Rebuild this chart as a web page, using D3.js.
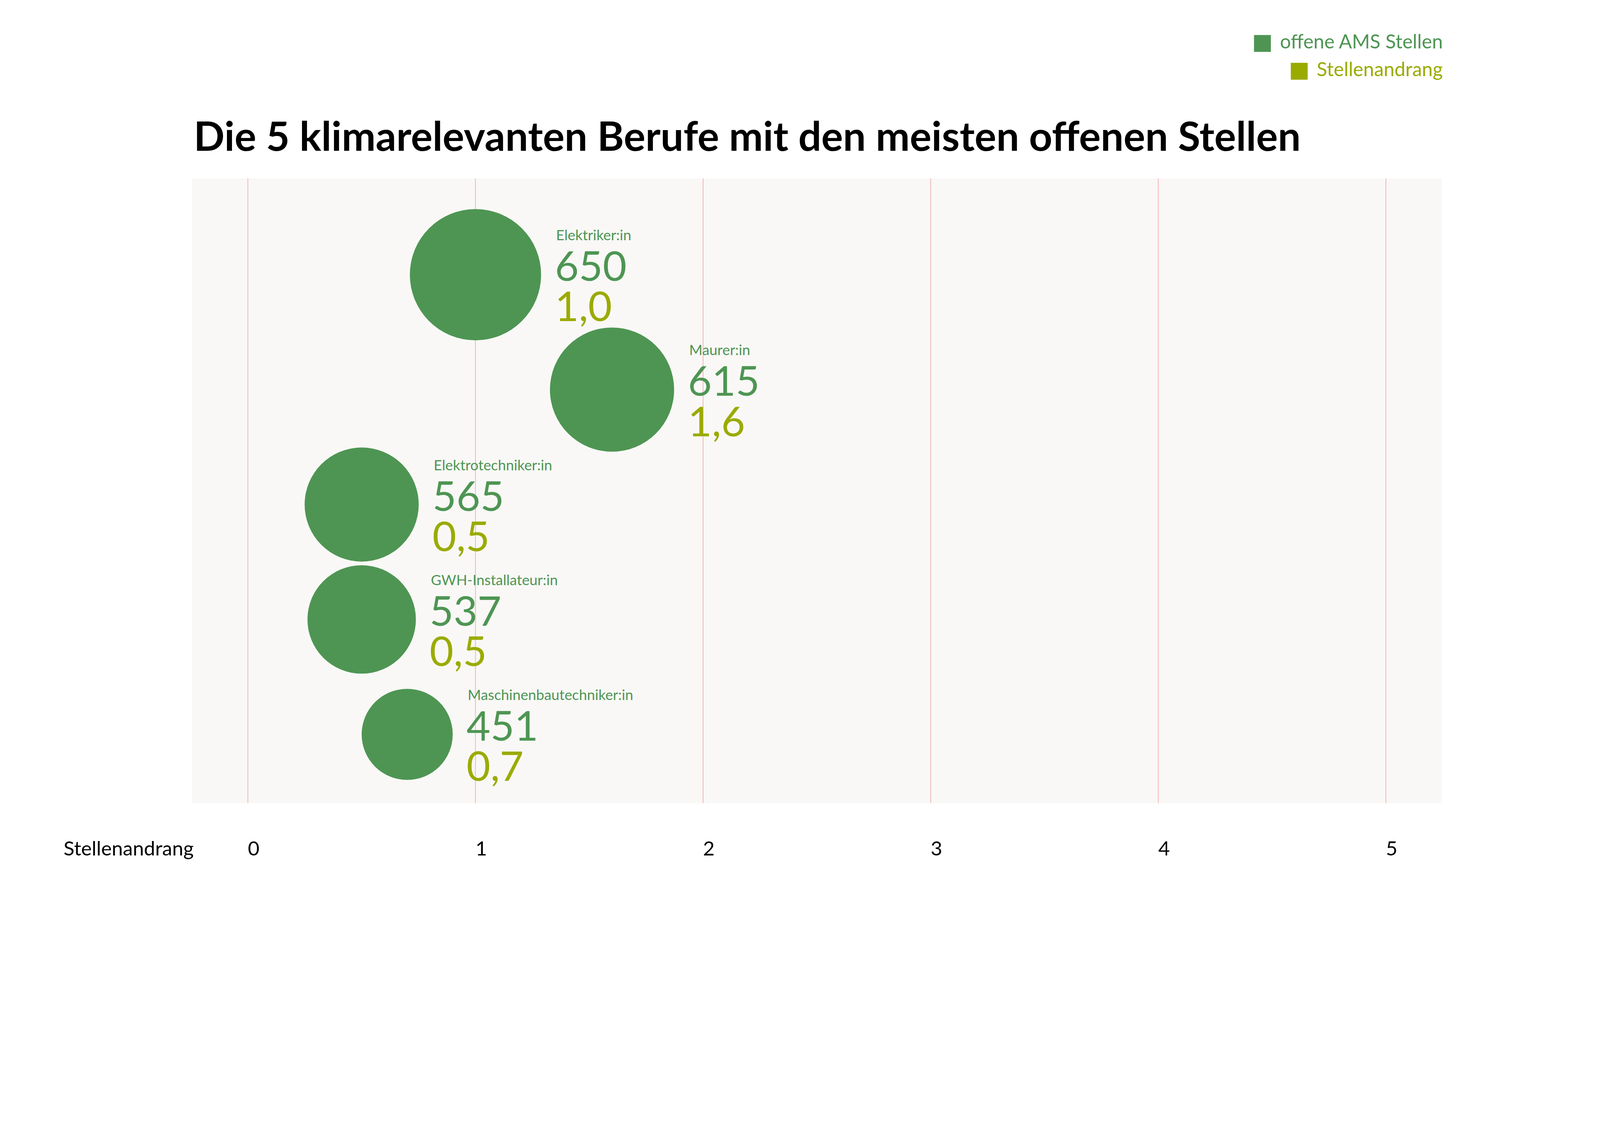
<!DOCTYPE html>
<html>
<head>
<meta charset="utf-8">
<script src="https://cdn.jsdelivr.net/npm/d3@7"></script>
<style>
  html, body { margin: 0; padding: 0; background: #fff; overflow: hidden; }
  svg { display: block; width: 100vw; height: auto; }
  text { font-family: Lato, "Noto Sans", sans-serif; }
</style>
</head>
<body>
<div id="chart"></div>
<script>
// data
var berufe = ["Elektriker:in", "Maurer:in", "Elektrotechniker:in", "GWH-Installateur:in", "Maschinenbautechniker:in"]
var offeneStellen = [650, 615, 565, 537, 451]
var stellenandrang = [1.0, 1.6, 0.5, 0.5, 0.7]
var xTicks = [0, 1, 2, 3, 4, 5]
var legendLabels = ["offene AMS Stellen", "Stellenandrang"]

var width = 5120, height = 2880
var green = "#4e9553", olive = "#9aab00"

var data = berufe.map(function(b, i) {
  return { name: b, stellen: offeneStellen[i], andrang: stellenandrang[i] }
})

var svg = d3.select("#chart").append("svg")
  .attr("viewBox", "0 0 " + width + " " + height)
  .attr("preserveAspectRatio", "xMinYMin meet")

var plot = { left: 614, right: 4614, top: 571, bottom: 2570 }

var x = d3.scaleLinear().domain([-0.246, 5.246]).range([plot.left, plot.right])
var y = d3.scalePoint().domain(berufe).range([879, 2350])
var r = d3.scaleLinear().domain([0, 650]).range([0, 210])

// plot background
svg.append("rect")
  .attr("x", plot.left).attr("y", plot.top)
  .attr("width", plot.right - plot.left)
  .attr("height", plot.bottom - plot.top)
  .attr("fill", "#f9f8f6")

// grid lines
svg.append("g").selectAll("line")
  .data(xTicks)
  .enter().append("line")
  .attr("x1", d => x(d)).attr("x2", d => x(d))
  .attr("y1", plot.top).attr("y2", plot.bottom)
  .attr("stroke", "#f2b6ba")
  .attr("stroke-width", 2.5)

// tick labels
svg.append("g").selectAll("text")
  .data(xTicks)
  .enter().append("text")
  .attr("x", d => x(d))
  .attr("y", 2738)
  .attr("font-size", 64)
  .attr("fill", "#000")
  .text(d => d)

svg.append("text")
  .attr("x", 620).attr("y", 2738)
  .attr("text-anchor", "end")
  .attr("font-size", 64)
  .attr("fill", "#000")
  .text("Stellenandrang")

// title
var title = svg.append("text")
  .attr("x", 620).attr("y", 483)
  .attr("font-size", 130)
  .attr("font-weight", "bold")
  .attr("fill", "#000")
  .text("Die 5 klimarelevanten Berufe mit den meisten offenen Stellen")
var tw = title.node().getComputedTextLength()
title.attr("font-size", 130 * 3543 / tw)

// bubbles
var bubble = svg.append("g").selectAll("g")
  .data(data)
  .enter().append("g")

bubble.append("circle")
  .attr("cx", d => x(d.andrang))
  .attr("cy", d => y(d.name))
  .attr("r", d => r(d.stellen))
  .attr("fill", green)

bubble.append("text")
  .attr("x", d => x(d.andrang) + r(d.stellen) + 48)
  .attr("y", d => y(d.name) - 110)
  .attr("font-size", 46)
  .attr("fill", green)
  .text(d => d.name)

bubble.append("text")
  .attr("x", d => x(d.andrang) + r(d.stellen) + 44)
  .attr("y", d => y(d.name) + 20)
  .attr("font-size", 132)
  .attr("fill", green)
  .text(d => d.stellen)

bubble.append("text")
  .attr("x", d => x(d.andrang) + r(d.stellen) + 44)
  .attr("y", d => y(d.name) + 149)
  .attr("font-size", 132)
  .attr("fill", olive)
  .text(d => d3.format(".1f")(d.andrang).replace(".", ","))

// legend, right aligned
var legend = svg.append("g").selectAll("g")
  .data(legendLabels)
  .enter().append("g")

legend.append("text")
  .attr("x", 4617)
  .attr("y", (d, i) => 155 + i * 89)
  .attr("text-anchor", "end")
  .attr("font-size", 62)
  .attr("fill", (d, i) => i == 0 ? green : olive)
  .text(d => d)

legend.each(function(d, i) {
  var t = d3.select(this).select("text").node()
  var w = t.getComputedTextLength()
  d3.select(this).append("rect")
    .attr("x", 4617 - w - 29 - 54)
    .attr("y", 112 + i * 89)
    .attr("width", 54).attr("height", 54)
    .attr("fill", i == 0 ? green : olive)
})
</script>
</body>
</html>
